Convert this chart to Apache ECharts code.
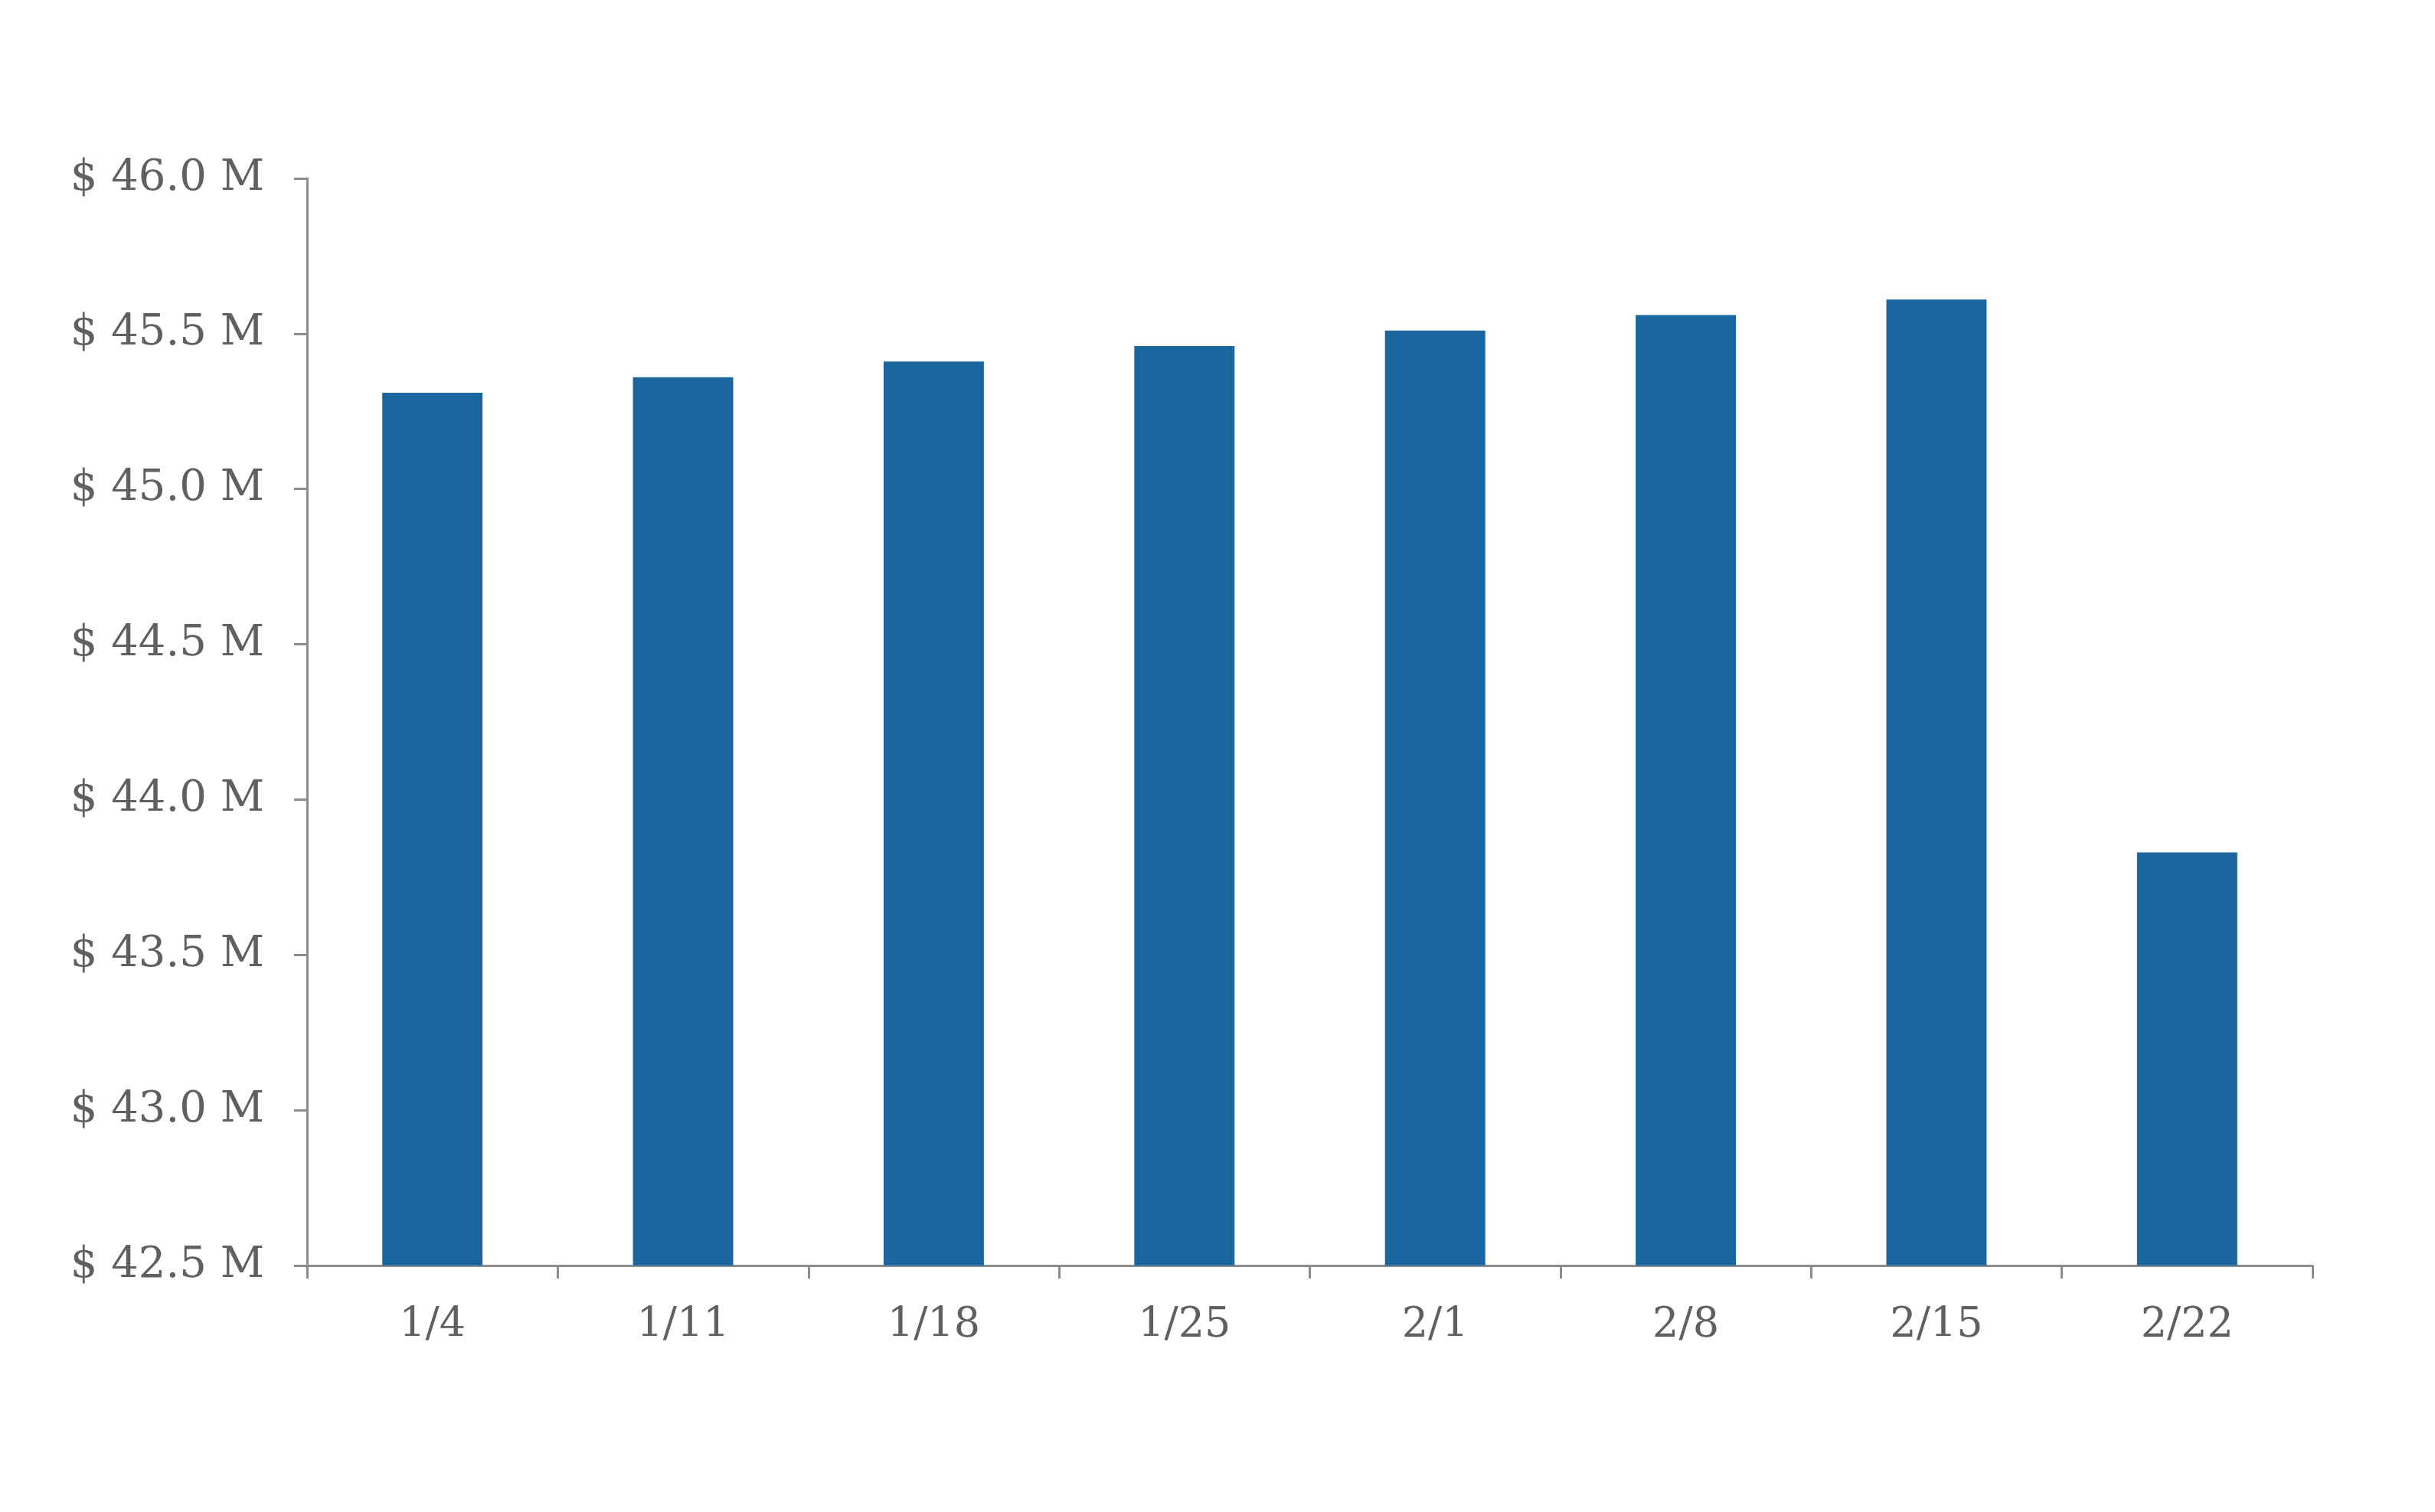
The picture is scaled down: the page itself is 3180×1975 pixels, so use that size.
<!DOCTYPE html>
<html>
<head>
<meta charset="utf-8">
<script src="https://cdn.jsdelivr.net/npm/echarts@6/dist/echarts.min.js"></script>
<style>
html,body{margin:0;padding:0;background:#fff;}
#chart{width:3180px;height:1975px;}
</style>
</head>
<body>
<div id="chart"></div>
<script>
const categories = ['1/4','1/11','1/18','1/25','2/1','2/8','2/15','2/22'];
const values = [45.31, 45.36, 45.41, 45.46, 45.51, 45.56, 45.61, 43.83];
const yMin = 42.5, yMax = 46.0, yStep = 0.5;

const chart = echarts.init(document.getElementById('chart'));
const textColor = '#606060';
const axisColor = '#8c8c8c';
chart.setOption({
  backgroundColor: '#ffffff',
  animation: false,
  grid: {left: 401, top: 233, right: 160, bottom: 322, containLabel: false},
  xAxis: {
    type: 'category',
    data: categories,
    boundaryGap: true,
    axisLine: {show: true, lineStyle: {color: axisColor, width: 3}},
    axisTick: {show: true, length: 17, alignWithLabel: false, lineStyle: {color: axisColor, width: 3}},
    axisLabel: {color: textColor, fontFamily: 'DejaVu Serif', fontSize: 54, margin: 52}
  },
  yAxis: {
    type: 'value',
    min: yMin, max: yMax, interval: yStep,
    splitLine: {show: false},
    axisLine: {show: true, lineStyle: {color: axisColor, width: 3}},
    axisTick: {show: true, length: 17, lineStyle: {color: axisColor, width: 3}},
    axisLabel: {
      color: textColor, fontFamily: 'DejaVu Serif', fontSize: 56, margin: 56,
      formatter: v => '$ ' + v.toFixed(1) + ' M'
    }
  },
  series: [{
    type: 'bar',
    data: values,
    barWidth: '40%',
    itemStyle: {color: '#1a67a0'}
  }]
});
</script>
</body>
</html>
